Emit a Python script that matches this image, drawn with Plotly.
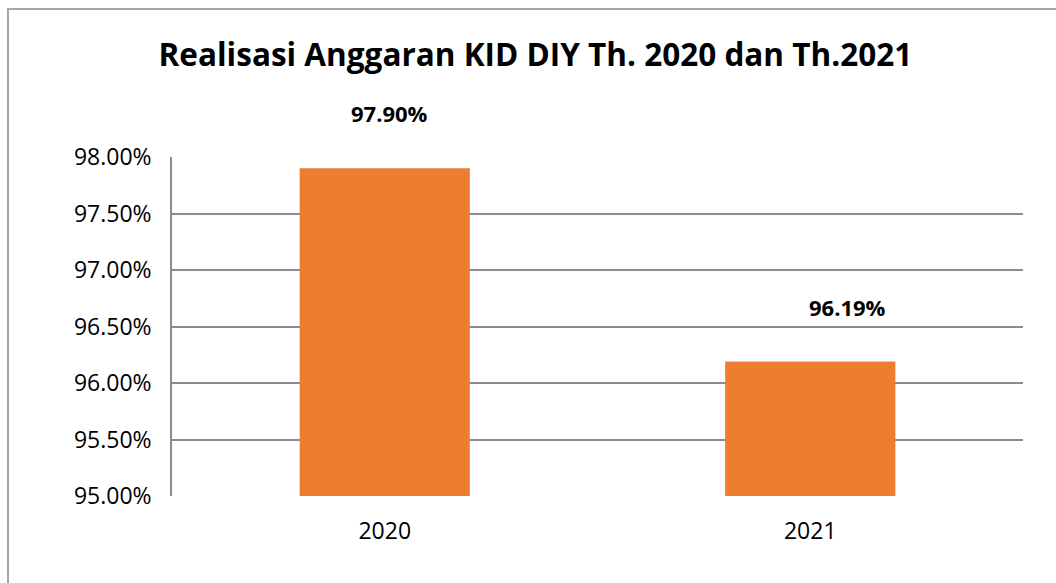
import plotly.graph_objects as go

years = ['2020', '2021']
realisasi = [97.90, 96.19]
label_text = ['97.90%', '96.19%']
y_ticks = [95.0, 95.5, 96.0, 96.5, 97.0, 97.5, 98.0]
y_tick_text = ['95.00%', '95.50%', '96.00%', '96.50%', '97.00%', '97.50%', '98.00%']

FONT = 'Open Sans'
GRID = '#8c8c8c'

fig = go.Figure()
fig.add_trace(go.Bar(
    x=years, y=realisasi,
    marker=dict(color='#ED7D31', line=dict(width=0)),
    width=0.4,
    hoverinfo='skip'
))

# data labels sit well above the bar tops in the original
# (category index used for x so '2020' is not read as a number)
shifts = [5, 37]
for i, (val, txt, dx) in enumerate(zip(realisasi, label_text, shifts)):
    fig.add_annotation(
        x=i, y=val, text=f'<b>{txt}</b>', showarrow=False,
        yshift=55, xshift=dx,
        font=dict(family=FONT, size=22, color='black')
    )

# outer chart border
fig.add_shape(
    type='rect', xref='paper', yref='paper',
    x0=-0.1927, x1=1.2, y0=-0.5, y1=1.4366,
    line=dict(color='#a6a6a6', width=2), layer='below'
)

fig.update_layout(
    width=1056, height=583,
    margin=dict(l=172, r=33, t=157, b=87),
    paper_bgcolor='white', plot_bgcolor='white',
    showlegend=False,
    title=dict(
        text='<b>Realisasi Anggaran KID DIY Th. 2020 dan Th.2021</b>',
        x=0.507, xanchor='center', y=0.905, yanchor='middle',
        font=dict(family=FONT, size=31.5, color='black')
    ),
    font=dict(family=FONT, color='black')
)
fig.update_yaxes(
    range=[95.0, 98.0], tickvals=y_ticks, ticktext=y_tick_text,
    showgrid=True, gridcolor=GRID, gridwidth=1.5,
    showline=True, linecolor=GRID, linewidth=1.5,
    zeroline=False, ticks='', ticklabelstandoff=14,
    tickfont=dict(family=FONT, size=23, color='black')
)
fig.update_xaxes(
    type='category', range=[-0.5, 1.5],
    showgrid=False, showline=False, ticks='',
    ticklabelstandoff=19,
    tickfont=dict(family=FONT, size=23, color='black')
)

fig.write_html('out.html', config={'displayModeBar': False},
               post_script="document.body.style.margin='0';")
